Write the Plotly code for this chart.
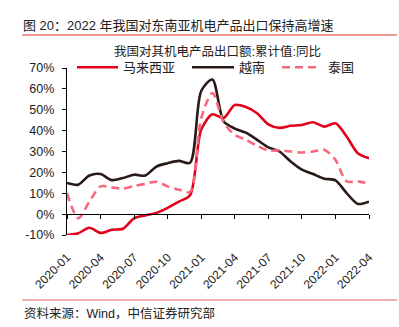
import plotly.graph_objects as go

# ---- data ----
months = ["2020-01","2020-02","2020-03","2020-04","2020-05","2020-06","2020-07","2020-08","2020-09","2020-10","2020-11","2020-12",
          "2021-01","2021-02","2021-03","2021-04","2021-05","2021-06","2021-07","2021-08","2021-09","2021-10","2021-11","2021-12",
          "2022-01","2022-02","2022-03","2022-04"]
malaysia = [-10, -9.2, -6.5, -9, -7.5, -7, -2, -0.6, 0.6, 3, 6, 9,
            40.5, 47.8, 46, 52.3, 51.3, 48.3, 43, 41.3, 42.3, 42.7, 44, 41.9,
            43.5, 37.2, 29.2, 26.8]
vietnam = [14.9, 14.1, 18.5, 19.2, 16.3, 17.3, 18.9, 18.5, 22.8, 24.4, 25.5, 24.6,
           59, 64.5, 44.5, 41, 39, 35.6, 32, 30, 25.2, 21.3, 19.2, 17,
           16.2, 10.1, 4.9, 6]
thailand = [10, -2, 6, 13.3, 12.8, 12.2, 13.5, 14.5, 15.5, 13.3, 11.7, 10.6,
            46, 58, 44, 38, 35.6, 32.7, 30.5, 30.5, 30, 29.5, 30, 30.8,
            26, 15.7, 15.7, 14.6]
series_names = ["马来西亚", "越南", "泰国"]
x_tick_labels = months[::3]
y_tick_vals = [-10, 0, 10, 20, 30, 40, 50, 60, 70]
y_tick_labels = ["-10%", "0%", "10%", "20%", "30%", "40%", "50%", "60%", "70%"]

title_text = "图 20：2022 年我国对东南亚机电产品出口保持高增速"
chart_title = "我国对其机电产品出口额:累计值:同比"
source_text = "资料来源：Wind，中信证券研究部"

# ---- layout geometry ----
W, H = 399, 327
L, R, T, B = 67, 30, 68, 92
PW, PH = W - L - R, H - T - B

def px(x):
    return (x - L) / PW

def py(y):
    return (H - B - y) / PH

FONT = "Liberation Sans, Arial, Noto Sans CJK SC, sans-serif"
RED = "#E2001A"
BLACK = "#2A1A17"
PINK = "#F8687C"
colors = [RED, BLACK, PINK]
dashes = ["solid", "solid", "8px,5px"]
series = [malaysia, vietnam, thailand]

fig = go.Figure()
for name, vals, col, dsh in zip(series_names, series, colors, dashes):
    fig.add_trace(go.Scatter(x=months, y=vals, name=name, mode="lines",
                             line=dict(color=col, width=2.6, shape="spline", smoothing=0.8, dash=dsh)))
# helper trace to carry the zero-line axis
fig.add_trace(go.Scatter(x=months, y=[None] * len(months), xaxis="x2", showlegend=False,
                         hoverinfo="skip", mode="lines"))

fig.update_layout(
    width=W, height=H,
    margin=dict(l=L, r=R, t=T, b=B, pad=0),
    paper_bgcolor="white", plot_bgcolor="white",
    font=dict(family=FONT, size=12.5, color="#222"),
    showlegend=False,
    xaxis=dict(type="category", range=[0, len(months) - 1], tickmode="array",
               tickvals=x_tick_labels, ticktext=x_tick_labels, tickangle=-45,
               showline=False, ticks="", showgrid=False, zeroline=False,
               tickfont=dict(size=12, color="#222"), ticklabelstandoff=12),
    xaxis2=dict(type="category", range=[0, len(months) - 1], overlaying="x",
                anchor="free", position=10 / 80, tickmode="array", tickvals=x_tick_labels,
                showticklabels=False, showline=True, linecolor="black", linewidth=1.3,
                ticks="outside", ticklen=4, tickcolor="black", tickwidth=1.2,
                showgrid=False, zeroline=False),
    yaxis=dict(range=[-10, 70], tickmode="array", tickvals=y_tick_vals, ticktext=y_tick_labels,
               showline=True, linecolor="black", linewidth=1.3, ticks="outside", ticklen=4,
               tickcolor="black", tickwidth=1.2, showgrid=False, zeroline=False,
               tickfont=dict(size=12.5, color="#222"), ticklabelstandoff=5),
)

# legend (drawn manually for exact placement)
legend_line_x = [(77, 118), (192, 234), (282, 321)]
legend_text_x = [122, 238, 327]
LEG_Y = 67.3
for name, col, dsh, (x0, x1), tx in zip(series_names, colors, dashes, legend_line_x, legend_text_x):
    fig.add_shape(type="line", xref="paper", yref="paper", x0=px(x0), x1=px(x1),
                  y0=py(LEG_Y), y1=py(LEG_Y), line=dict(color=col, width=2.6, dash=dsh))
    fig.add_annotation(text=name, xref="paper", yref="paper", x=px(tx), y=py(LEG_Y),
                       xanchor="left", yanchor="middle", showarrow=False,
                       font=dict(size=13, color="#222"), borderpad=0)

fig.add_annotation(text=title_text, xref="paper", yref="paper", x=px(21), y=py(25),
                   xanchor="left", yanchor="middle", showarrow=False,
                   font=dict(size=13, color="#222"))
fig.add_annotation(text=chart_title, xref="paper", yref="paper", x=px(217), y=py(52),
                   xanchor="center", yanchor="middle", showarrow=False,
                   font=dict(size=12.5, color="#222"))
fig.add_annotation(text=source_text, xref="paper", yref="paper", x=px(22), y=py(313),
                   xanchor="left", yanchor="middle", showarrow=False,
                   font=dict(size=12.5, color="#222"))
fig.add_shape(type="line", xref="paper", yref="paper", x0=px(22), x1=px(397), y0=py(35), y1=py(35),
              line=dict(color="#E03030", width=1))
fig.add_shape(type="line", xref="paper", yref="paper", x0=px(22), x1=px(397), y0=py(300), y1=py(300),
              line=dict(color="#E06060", width=1))

fig.write_html("out.html")
